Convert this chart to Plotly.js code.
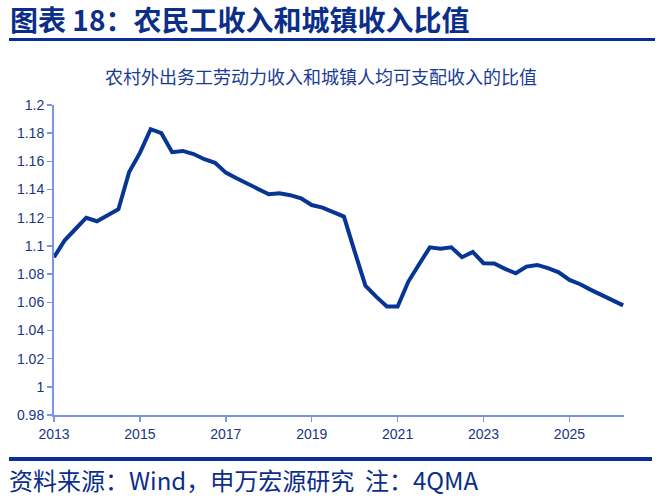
<!DOCTYPE html>
<html>
<head>
<meta charset="utf-8">
<script src="https://cdn.plot.ly/plotly-3.0.1.min.js"></script>
<style>
  body { margin: 0; background: #fff; }
</style>
</head>
<body>
<div id="chart"></div>
<script>
// 季度数据, 2013Q1 起
const startYear = 2013;
const ratio = [
  1.092, 1.104, 1.112, 1.120, 1.1175, 1.122, 1.126, 1.1525, 1.166, 1.1828,
  1.180, 1.1665, 1.1674, 1.1652, 1.1615, 1.159, 1.152, 1.148, 1.144, 1.140,
  1.1367, 1.1374, 1.136, 1.1338, 1.129, 1.1272, 1.124, 1.1208, 1.096, 1.0718,
  1.064, 1.057, 1.057, 1.0747, 1.087, 1.099, 1.098, 1.099, 1.092, 1.0957,
  1.0877, 1.0875, 1.0837, 1.0806, 1.0853, 1.0865, 1.0842, 1.0813, 1.0759, 1.0728,
  1.0688, 1.0652, 1.0617, 1.0578
];
const quarters = ratio.map((v, i) => startYear + i * 0.25);

const yTicks = [0.98, 1, 1.02, 1.04, 1.06, 1.08, 1.1, 1.12, 1.14, 1.16, 1.18, 1.2];
const yLabels = ['0.98', '1', '1.02', '1.04', '1.06', '1.08', '1.1', '1.12', '1.14', '1.16', '1.18', '1.2'];
const xTicks = [2013, 2015, 2017, 2019, 2021, 2023, 2025];
const xLabels = ['2013', '2015', '2017', '2019', '2021', '2023', '2025'];

const headText = '<b>图表 18：农民工收入和城镇收入比值</b>';
const footText = '资料来源：Wind，申万宏源研究  注：4QMA';

const W = 663, H = 499;
const M = { l: 54, r: 39, t: 105, b: 84 };
// 像素 -> paper 坐标
const px = x => (x - M.l) / (W - M.l - M.r);
const py = y => (H - M.b - y) / (H - M.t - M.b);

const axisColor = '#7b96dc';
const navy = '#0a2e8a';
const barBlue = '#0a2e96';
const cjk = 'Noto Sans CJK SC, sans-serif';
const tickFont = { family: 'Liberation Sans, Arial, sans-serif', size: 14, color: '#1a3585' };

const trace = {
  type: 'scatter',
  mode: 'lines',
  x: quarters,
  y: ratio,
  line: { color: '#063594', width: 4 },
  hoverinfo: 'skip'
};

const layout = {
  width: W,
  height: H,
  margin: M,
  paper_bgcolor: 'white',
  plot_bgcolor: 'white',
  showlegend: false,
  title: {
    text: '农村外出务工劳动力收入和城镇人均可支配收入的比值',
    font: { family: cjk, size: 18, color: '#1a3a96' },
    x: 321 / W, xanchor: 'center',
    y: 1 - 78 / H, yanchor: 'middle'
  },
  xaxis: {
    range: [2013, 2026.27],
    tickvals: xTicks,
    ticktext: xLabels,
    showgrid: false,
    zeroline: false,
    showline: true,
    linecolor: axisColor,
    linewidth: 2,
    ticks: 'outside',
    ticklen: 5,
    tickwidth: 1.5,
    tickcolor: axisColor,
    tickfont: tickFont
  },
  yaxis: {
    range: [0.98, 1.2],
    tickvals: yTicks,
    ticktext: yLabels,
    showgrid: false,
    zeroline: false,
    showline: true,
    linecolor: axisColor,
    linewidth: 2,
    ticks: 'outside',
    ticklen: 5,
    tickwidth: 1.5,
    tickcolor: axisColor,
    tickfont: tickFont
  },
  shapes: [
    { type: 'line', xref: 'paper', yref: 'paper', x0: px(9), x1: px(655), y0: py(39.5), y1: py(39.5),
      line: { color: barBlue, width: 3 } },
    { type: 'line', xref: 'paper', yref: 'paper', x0: px(9), x1: px(652), y0: py(459), y1: py(459),
      line: { color: barBlue, width: 4 } }
  ],
  annotations: [
    { xref: 'paper', yref: 'paper', x: px(8), y: py(19), xanchor: 'left', yanchor: 'middle',
      text: headText, showarrow: false, font: { family: cjk, size: 28, color: navy } },
    { xref: 'paper', yref: 'paper', x: px(8), y: py(498), xanchor: 'left', yanchor: 'bottom',
      borderpad: 0, text: footText, showarrow: false, font: { family: cjk, size: 24, color: navy } }
  ]
};

Plotly.newPlot('chart', [trace], layout, { displayModeBar: false, staticPlot: true });
</script>
</body>
</html>
